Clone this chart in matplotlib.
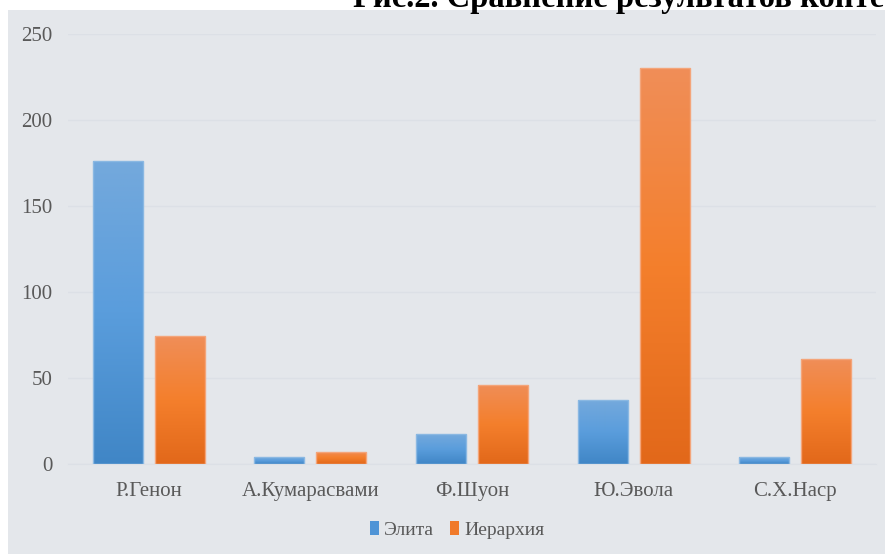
import numpy as np
import matplotlib
matplotlib.use("Agg")
import matplotlib.pyplot as plt
from matplotlib.colors import LinearSegmentedColormap
from matplotlib.patches import Rectangle

plt.rcParams['font.family'] = ['Liberation Serif', 'DejaVu Serif']

authors = ['Р.Генон', 'А.Кумарасвами', 'Ф.Шуон', 'Ю.Эвола', 'С.Х.Наср']
elite = [176, 4, 17, 37, 4]
hierarchy = [74, 7, 46, 230, 61]
series_names = ['Элита', 'Иерархия']
yticks = [0, 50, 100, 150, 200, 250]

blue_cmap = LinearSegmentedColormap.from_list('b', ['#4086c6', '#5a9ddc', '#74a9dc'])
orange_cmap = LinearSegmentedColormap.from_list('o', ['#e2681a', '#f47f2c', '#f08e58'])

fig = plt.figure(figsize=(8.85, 5.54), dpi=100)
fig.patch.set_facecolor('white')
# gray chart panel, behind the axes
fig.patches.append(Rectangle((8 / 885, 0), 1, 1 - 10 / 554, transform=fig.transFigure,
                             facecolor='#e4e7eb', edgecolor='none', zorder=-5))

ax = fig.add_axes([68 / 885, 1 - 463.7 / 554, (876 - 68) / 885, (463.7 - 33.7) / 554])
ax.set_facecolor('none')
ax.set_zorder(1)

x = np.arange(len(authors))
w = 0.309
off = w / 2 + 0.037


def grad_bars(xpos, vals, cmap, edge):
    bars = ax.bar(xpos, vals, w, color='none', edgecolor=edge, linewidth=1.0, zorder=3)
    grad = np.linspace(0, 1, 256).reshape(-1, 1)
    for b in bars:
        x0, y0 = b.get_x(), b.get_y()
        im = ax.imshow(grad, cmap=cmap, origin='lower', aspect='auto',
                       extent=[x0, x0 + b.get_width(), y0, y0 + b.get_height()], zorder=2)
        im.set_clip_path(b)
    return bars


grad_bars(x - off, elite, blue_cmap, '#8ab8e2')
grad_bars(x + off, hierarchy, orange_cmap, '#f4a57a')

ax.set_xlim(-0.5, len(authors) - 0.5)
ax.set_ylim(0, 250)
ax.set_yticks(yticks)
ax.set_xticks(x)
ax.set_xticklabels(authors)
ax.grid(axis='y', color='#dce0e6', linewidth=1.0, zorder=1)
ax.set_axisbelow(True)
for s in ax.spines.values():
    s.set_visible(False)
ax.spines['bottom'].set_visible(True)
ax.spines['bottom'].set_color('#dce0e6')
ax.tick_params(axis='both', length=0, labelsize=15, labelcolor='#595959')
ax.tick_params(axis='y', pad=11)
ax.tick_params(axis='x', pad=13)

handles = [Rectangle((0, 0), 1, 1, facecolor='#4f94d6'),
           Rectangle((0, 0), 1, 1, facecolor='#f07a2a')]
fig.legend(handles, series_names, loc='center', bbox_to_anchor=(457 / 885, 1 - 530 / 554),
           ncol=2, frameon=False, fontsize=14, labelcolor='#595959',
           handlelength=0.5, handleheight=0.7, handletextpad=0.25, columnspacing=0.8)

fig.text(353 / 885, 1 - 7 / 554, 'Рис.2. Сравнение результатов контент-анализа',
         fontsize=23.5, fontweight='bold', va='baseline', ha='left', color='black')

fig.savefig('out.png', dpi=100)
